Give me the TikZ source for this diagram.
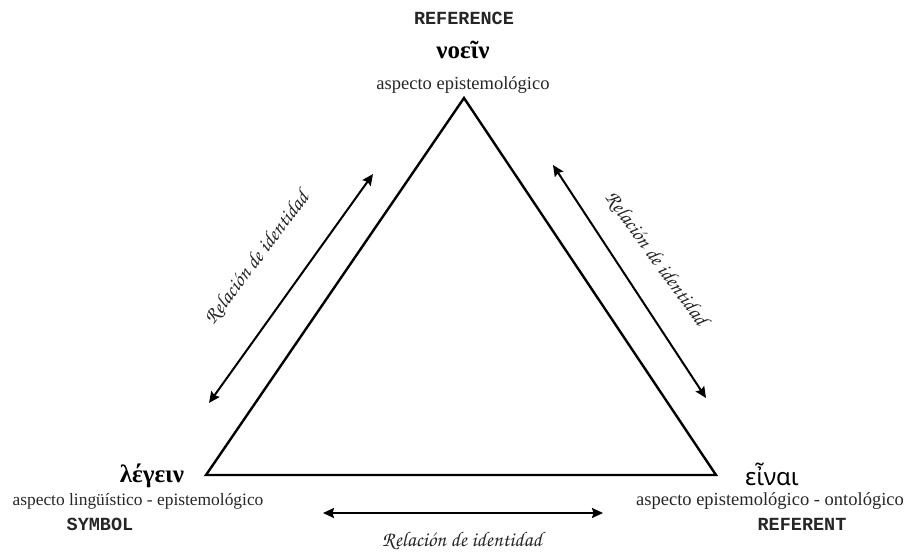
\documentclass[tikz,border=0pt]{standalone}
\usepackage[T1]{fontenc}
\usepackage{fontspec}
\usetikzlibrary{arrows.meta}
\setmainfont{Liberation Serif}
\newfontfamily\greekserif{Liberation Serif}
\newfontfamily\greeksans{Noto Sans}
\newfontfamily\capsmono{Liberation Mono}
\newcommand\chancery{\fontencoding{T1}\fontfamily{pzc}\fontseries{mb}\fontshape{it}\selectfont}
\newcommand\relid{\chancery Relaci\'on de identidad}

\tikzset{
  tri/.style={line width=2.4pt, line join=miter},
  rel/.style={line width=2pt, {Stealth[length=11pt,width=10pt,inset=1.5pt]}-{Stealth[length=11pt,width=10pt,inset=1.5pt]}},
  word/.style={anchor=base, inner sep=0pt, font=\greekserif\bfseries\fontsize{25}{28}\selectfont},
  aspect/.style={anchor=base, inner sep=0pt, text=black!85},
  tag/.style={anchor=base, inner sep=0pt, font=\capsmono\bfseries\fontsize{18.5}{21}\selectfont, text=black!85},
  rellabel/.style={inner sep=0pt, font=\fontsize{21}{23}\selectfont, text=black!85}
}

\begin{document}
\begin{tikzpicture}[x=1pt, y=-1pt]
  \useasboundingbox (0,0) rectangle (912,552);

  % vertices of the semiotic triangle
  \coordinate (apex) at (464,98);
  \coordinate (left) at (206,475);
  \coordinate (right) at (716,475);
  \draw[tri] (apex) -- (left) -- (right) -- cycle;

  % reference (top)
  \node[tag] (reference) at (464,24) {REFERENCE};
  \node[word] (noein) at (463,58) {νοεῖν};
  \node[aspect, font=\fontsize{18.5}{21}\selectfont] (aspTop) at (463,89) {aspecto epistemológico};

  % symbol (left)
  \node[word] (legein) at (152,482) {λέγειν};
  \node[aspect, font=\fontsize{17.4}{20}\selectfont] (aspLeft) at (138,505) {aspecto lingüístico - epistemológico};
  \node[tag] (symbol) at (100,530) {SYMBOL};

  % referent (right)
  \node[word, font=\greeksans\fontsize{24}{27}\selectfont] (einai) at (772,485) {εἶναι};
  \node[aspect, font=\fontsize{18.5}{21}\selectfont] (aspRight) at (770,505) {aspecto epistemológico - ontológico};
  \node[tag] (referent) at (802,530) {REFERENT};

  % identity relations along the sides
  \coordinate (lTop) at (373,174);
  \coordinate (lBot) at (209,403);
  \draw[rel] (lBot) -- (lTop);
  \node[rellabel, rotate=53] (relLeft) at (257,258) {\relid};

  \coordinate (rTop) at (553,165);
  \coordinate (rBot) at (706,398);
  \draw[rel] (rTop) -- (rBot);
  \node[rellabel, rotate=-54] (relRight) at (656,259) {\relid};

  \coordinate (bL) at (323,513);
  \coordinate (bR) at (603,513);
  \draw[rel] (bL) -- (bR);
  \node[rellabel, anchor=base] (relBottom) at (462,546) {\relid};
\end{tikzpicture}
\end{document}
